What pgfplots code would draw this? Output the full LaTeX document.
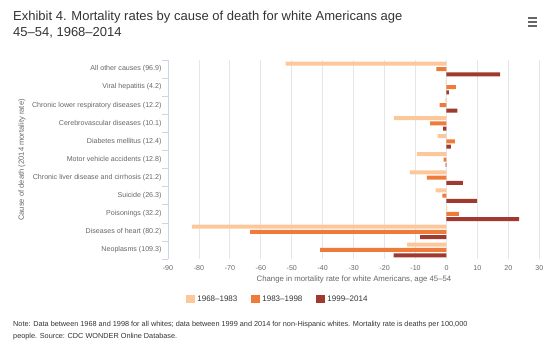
\documentclass[border=0pt]{standalone}
\usepackage{pgfplots}
\pgfplotsset{compat=1.18}
\usepackage{pgfplotstable}
\usepackage{fontspec}
\setmainfont{Liberation Sans}
\definecolor{cA}{HTML}{FCC89B}
\definecolor{cB}{HTML}{EF7B3A}
\definecolor{cC}{HTML}{A0392E}
\definecolor{gridc}{HTML}{E6E6E6}
\definecolor{axc}{HTML}{CCD6EB}
\definecolor{txt}{HTML}{666666}
\definecolor{ttl}{HTML}{333333}

\pgfplotstableread{
y v
0 -52.0
1 -0.3
2 -0.4
3 -17.0
4 -2.9
5 -9.6
6 -11.8
7 -3.5
8 0.2
9 -82.3
10 -12.7
}\seriesA
\pgfplotstableread{
y v
0 -3.3
1 3.0
2 -2.2
3 -5.3
4 2.7
5 -0.9
6 -6.3
7 -1.3
8 4.0
9 -63.5
10 -40.8
}\seriesB
\pgfplotstableread{
y v
0 17.3
1 0.8
2 3.5
3 -1.1
4 1.4
5 -0.3
6 5.3
7 9.9
8 23.5
9 -8.5
10 -17.1
}\seriesC

\begin{document}
\begin{tikzpicture}[x=1bp,y=1bp]
\path[use as bounding box] (0,0) rectangle (557,350);
% title
\node[anchor=north west, align=left, inner sep=0pt, text=ttl, font=\fontsize{13bp}{15.5bp}\selectfont] at (13,339)
  {Exhibit 4. Mortality rates by cause of death for white Americans age\\45–54, 1968–2014};
% menu icon
\foreach \yy in {332,328,324} \draw[txt, line width=1.3bp] (528,\yy) -- (537,\yy);
\begin{axis}[
  at={(168bp,91bp)}, anchor=south west,
  scale only axis, width=371.3bp, height=199bp,
  xbar, bar width=4bp,
  xmin=-90, xmax=30,
  ymin=-0.5, ymax=10.5, y dir=reverse,
  xtick={-90,-80,...,30},
  ytick={0,...,10},
  yticklabels={All other causes (96.9),Viral hepatitis (4.2),Chronic lower respiratory diseases (12.2),Cerebrovascular diseases (10.1),Diabetes mellitus (12.4),Motor vehicle accidents (12.8),Chronic liver disease and cirrhosis (21.2),Suicide (26.3),Poisonings (32.2),Diseases of heart (80.2),Neoplasms (109.3)},
  xmajorgrids, grid style={gridc, line width=0.8bp},
  axis x line*=bottom,
  axis y line*=left,
  x axis line style={draw=none},
  y axis line style={axc, line width=0.8bp, -},
  major tick length=0pt,
  tick style={draw=none},
  tick label style={text=txt, font=\fontsize{7.1bp}{8bp}\selectfont},
  /pgf/number format/assume math mode=true,
  yticklabel style={xshift=-3bp},
  xticklabel style={yshift=-3bp},
  legend style={at={(0.296,-0.201)}, anchor=center, draw=none, fill=none,
    legend columns=3, font=\fontsize{8bp}{9bp}\selectfont, text=ttl,
    /tikz/every even column/.append style={column sep=12bp},
    inner sep=0pt},
  legend image code/.code={\fill (0bp,-4bp) rectangle (9bp,4.5bp);},
  clip=false,
]
\addplot[fill=cA, draw=none, bar shift=5.3bp] table[x=v, y=y] {\seriesA};
\addlegendentry{1968–1983}
\addplot[fill=cB, draw=none, bar shift=0bp] table[x=v, y=y] {\seriesB};
\addlegendentry{1983–1998}
\addplot[fill=cC, draw=none, bar shift=-5.3bp] table[x=v, y=y] {\seriesC};
\addlegendentry{1999–2014}
\pgfplotsinvokeforeach{-0.5,0.5,1.5,2.5,3.5,4.5,5.5,6.5,7.5,8.5,9.5,10.5}{
  \draw[axc, line width=0.6bp] (axis cs:-90,#1) -- ++(-6bp,0bp);
}
\end{axis}
% axis labels
\node[rotate=90, text=txt, font=\fontsize{7.6bp}{8.5bp}\selectfont] at (22,190) {Cause of death (2014 mortality rate)};
\node[text=txt, font=\fontsize{7.8bp}{9bp}\selectfont] at (354,71) {Change in mortality rate for white Americans, age 45–54};
% note
\node[anchor=north west, align=left, inner sep=0pt, text=ttl, font=\fontsize{7.3bp}{12bp}\selectfont] at (13,29)
  {Note: Data between 1968 and 1998 for all whites; data between 1999 and 2014 for non-Hispanic whites. Mortality rate is deaths per 100,000\\people. Source: CDC WONDER Online Database.};
\end{tikzpicture}
\end{document}
